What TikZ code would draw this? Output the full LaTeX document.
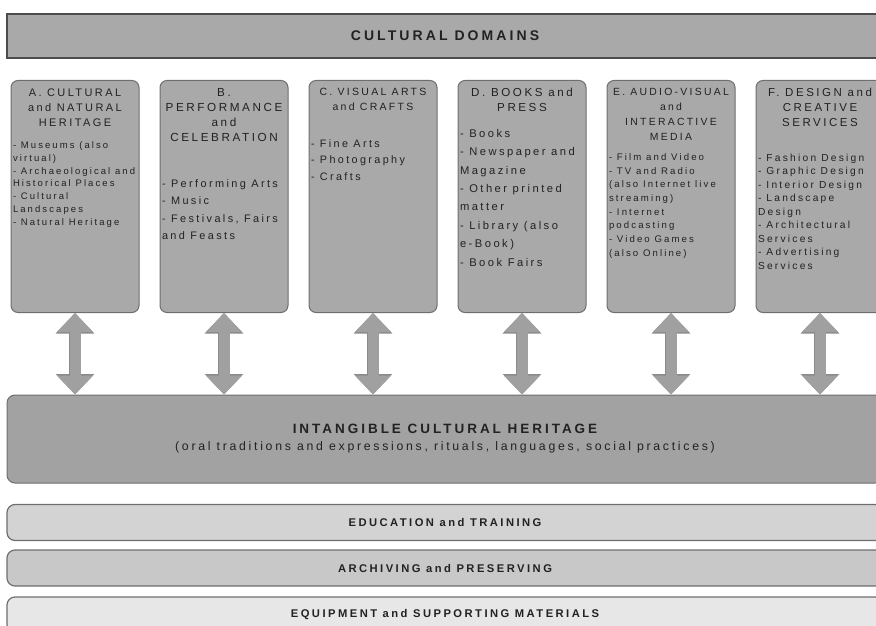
\documentclass[tikz,border=0pt]{standalone}
\usepackage{fontspec}
\setmainfont{Liberation Sans}[LetterSpace=22]
\usetikzlibrary{arrows.meta}

\definecolor{boxgray}{HTML}{A9A9A9}
\definecolor{edgegray}{HTML}{6E6E6E}
\definecolor{bargray}{HTML}{D3D3D3}
\definecolor{lightbar}{HTML}{E7E7E7}
\definecolor{arrowgray}{HTML}{A0A0A0}
\definecolor{inkgray}{HTML}{222222}

\tikzset{
  headbar/.style={draw=black!70, fill=boxgray, line width=2pt, minimum width=876pt,
    minimum height=44pt, text=inkgray, font=\bfseries\fontsize{14}{16}\selectfont},
  domainbox/.style={draw=edgegray, fill=boxgray, rounded corners=7pt, line width=1pt,
    anchor=north, inner xsep=2pt, inner ysep=8pt, text=inkgray},
  ichbox/.style={draw=edgegray, fill=boxgray!96!black, rounded corners=8pt, line width=1pt,
    minimum width=876pt, minimum height=88pt, align=center, text=inkgray},
  supportbar/.style={draw=edgegray, fill=bargray, rounded corners=8pt, line width=1.2pt,
    minimum width=876pt, minimum height=36pt, text=inkgray,
    font=\bfseries\fontsize{11.2}{13}\selectfont},
  bothways/.style={arrowgray, line width=11pt,
    {Triangle[width=35pt,length=19pt]}-{Triangle[width=35pt,length=19pt]},
    preaction={draw=edgegray!80, line width=12.6pt,
      arrows={Triangle[width=37.5pt,length=20.5pt]-Triangle[width=37.5pt,length=20.5pt]}}}
}

\begin{document}
\begin{tikzpicture}[x=1pt,y=-1pt]
  \useasboundingbox (0,0) rectangle (876,626);
  \node[headbar] (domains) at (445,36) {CULTURAL DOMAINS};
  % the six domains: name/x/title size/item size/lead/gap/title/items
  \foreach \n/\x/\tsize/\isize/\lead/\gap/\head/\items in {
    A/75/11/9.5/12.7/10/{A. CULTURAL\\and NATURAL\\HERITAGE}/{- Museums (also\\virtual)\\- Archaeological and\\Historical Places\\- Cultural\\Landscapes\\- Natural Heritage},
    B/224/11.7/10.9/17.5/28/{B.\\PERFORMANCE\\and\\CELEBRATION}/{- Performing Arts\\- Music\\- Festivals, Fairs\\and Feasts},
    C/373/10.5/10.8/16.5/20/{C. VISUAL ARTS\\and CRAFTS}/{- Fine Arts\\- Photography\\- Crafts},
    D/522/11.6/11.2/18.4/7/{D. BOOKS and\\PRESS}/{- Books\\- Newspaper and\\Magazine\\- Other printed\\matter\\- Library (also\\e-Book)\\- Book Fairs},
    E/671/10.4/9.6/13.7/6/{E. AUDIO-VISUAL\\and\\INTERACTIVE\\MEDIA}/{- Film and Video\\- TV and Radio\\(also Internet live\\streaming)\\- Internet\\podcasting\\- Video Games\\(also Online)},
    F/820/11.5/10.2/13.5/21/{F. DESIGN and\\CREATIVE\\SERVICES}/{- Fashion Design\\- Graphic Design\\- Interior Design\\- Landscape\\Design\\- Architectural\\Services\\- Advertising\\Services}}
    \node[domainbox] (\n) at (\x,80) {\parbox[t][216pt][t]{124pt}{%
      \fontsize{\tsize}{15}\selectfont\centering\head\endgraf\vspace{\gap pt}%
      \fontsize{\isize}{\lead}\selectfont\raggedright\items}};
  \node[ichbox] (ich) at (445,439) {{\bfseries\fontsize{13.5}{16}\selectfont INTANGIBLE CULTURAL HERITAGE}\\[5pt]
    \fontsize{12.3}{14}\selectfont(oral traditions and expressions, rituals, languages, social practices)};
  \foreach \n in {A,B,C,D,E,F}
    \draw[bothways] (\n.south) -- (\n.south |- ich.north);
  \node[supportbar] (edu) at (445,522.5) {EDUCATION and TRAINING};
  \node[supportbar, fill=bargray!95!black] (arch) at (445,568) {ARCHIVING and PRESERVING};
  \node[supportbar, fill=lightbar] (equip) at (445,615) {EQUIPMENT and SUPPORTING MATERIALS};
\end{tikzpicture}
\end{document}
